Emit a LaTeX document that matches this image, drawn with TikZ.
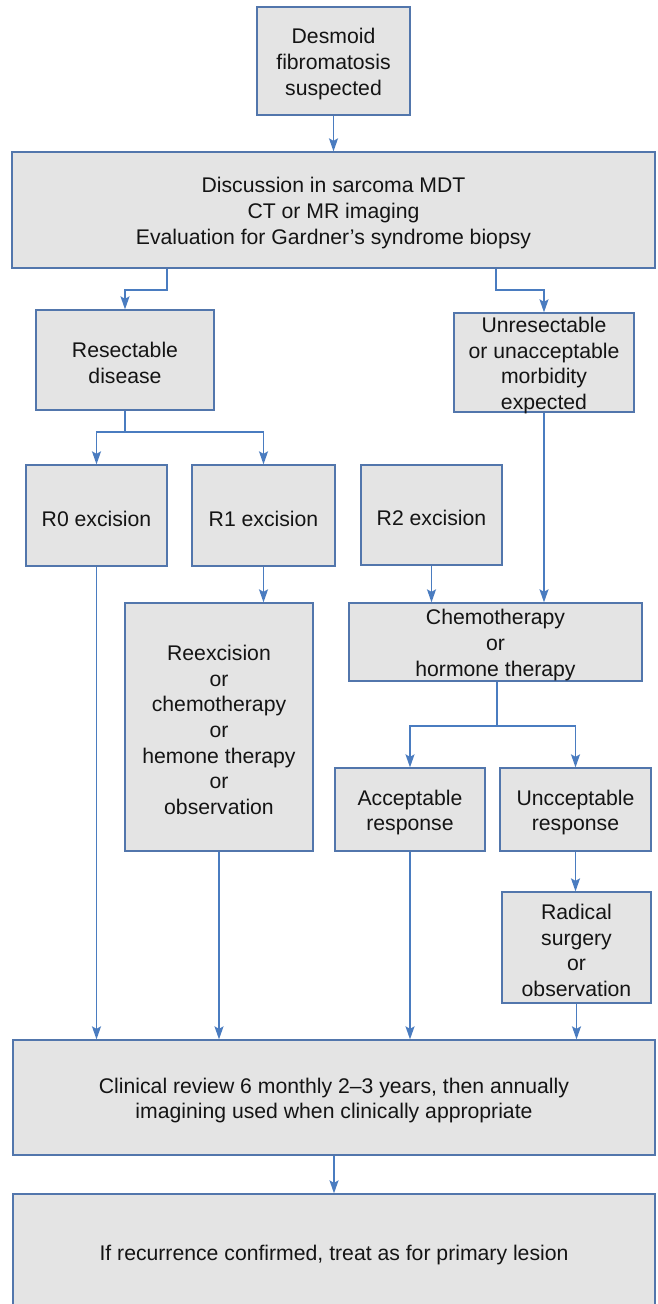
\documentclass[tikz,border=0pt]{standalone}
\usepackage{fontspec}
\setmainfont{Liberation Sans}
\usetikzlibrary{arrows.meta,calc}
\definecolor{boxfill}{HTML}{E4E4E4}
\definecolor{boxline}{HTML}{5276AC}
\definecolor{arrline}{HTML}{4A7CC0}
\newcommand\flowbox[5]{%
  \node[box,minimum width=#3,minimum height=#4] (#1) at #2 {};
  \node[txt] (#1-text) at ([yshift=-3pt]#1.center) {#5};}
\begin{document}
\begin{tikzpicture}[x=1pt,y=-1pt,
  box/.style={draw=boxline,fill=boxfill,line width=1.3pt,inner sep=0pt},
  txt/.style={align=center,inner sep=0pt,font=\fontsize{21.2}{25.7}\selectfont,text=black!92},
  arr/.style={draw=arrline,line width=1.4pt,-{Stealth[length=13pt,width=9pt,inset=2.5pt]}},
  ln/.style={draw=arrline,line width=1.4pt}]
\clip (0,0) rectangle (657,1304);
\fill[white] (0,0) rectangle (657,1304);
\flowbox{top}{(333.5,61)}{153pt}{108pt}{Desmoid\\fibromatosis\\suspected}
\flowbox{mdt}{(333.5,210)}{643pt}{116pt}{Discussion in sarcoma MDT\\CT or MR imaging\\Evaluation for Gardner’s syndrome biopsy}
\flowbox{res}{(125,360)}{178pt}{100pt}{Resectable\\disease}
\flowbox{unres}{(544,362.5)}{180pt}{99pt}{Unresectable\\or unacceptable\\morbidity\\expected}
\flowbox{r0}{(96.5,515.5)}{141pt}{101pt}{R0 excision}
\flowbox{r1}{(263.5,515.5)}{143pt}{101pt}{R1 excision}
\flowbox{r2}{(431.5,515)}{141pt}{100pt}{R2 excision}
\flowbox{reex}{(219,727)}{188pt}{248pt}{Reexcision\\or\\chemotherapy\\or\\hemone therapy\\or\\observation}
\flowbox{chemo}{(495.5,642)}{293pt}{78pt}{Chemotherapy\\or\\hormone therapy}
\flowbox{acc}{(410,809.5)}{150pt}{83pt}{Acceptable\\response}
\flowbox{unacc}{(575.5,809.5)}{151pt}{83pt}{Uncceptable\\response}
\flowbox{rad}{(576.5,947.5)}{149pt}{111pt}{Radical\\surgery\\or\\observation}
\flowbox{clin}{(334,1097.5)}{642pt}{115pt}{Clinical review 6 monthly 2–3 years, then annually\\imagining used when clinically appropriate}
\flowbox{last}{(334,1252)}{642pt}{116pt}{If recurrence confirmed, treat as for primary lesion}
% connectors
\draw[arr] (top.south) -- (mdt.north);
\coordinate (c1) at (167,290);
\coordinate (c2) at (496,290);
\draw[arr] (c1 |- mdt.south) -- (c1) -| (res.north);
\draw[arr] (c2 |- mdt.south) -- (c2) -| (unres.north);
\coordinate (c3) at (125,432);
\draw[ln] (res.south) -- (c3);
\draw[arr] (c3) -| (r0.north);
\draw[arr] (c3) -| (r1.north);
\draw[arr] (r0.south) -- (r0.south |- clin.north);
\draw[arr] (r1.south) -- (r1.south |- reex.north);
\draw[arr] (reex.south) -- (reex.south |- clin.north);
\draw[arr] (r2.south) -- (r2.south |- chemo.north);
\draw[arr] (unres.south) -- (unres.south |- chemo.north);
\coordinate (c4) at (497,726);
\draw[ln] (c4 |- chemo.south) -- (c4);
\draw[arr] (c4) -| (acc.north);
\draw[arr] (c4) -| (unacc.north);
\draw[arr] (acc.south) -- (acc.south |- clin.north);
\draw[arr] (unacc.south) -- (unacc.south |- rad.north);
\draw[arr] (rad.south) -- (rad.south |- clin.north);
\draw[arr] (clin.south) -- (last.north);
\end{tikzpicture}
\end{document}
